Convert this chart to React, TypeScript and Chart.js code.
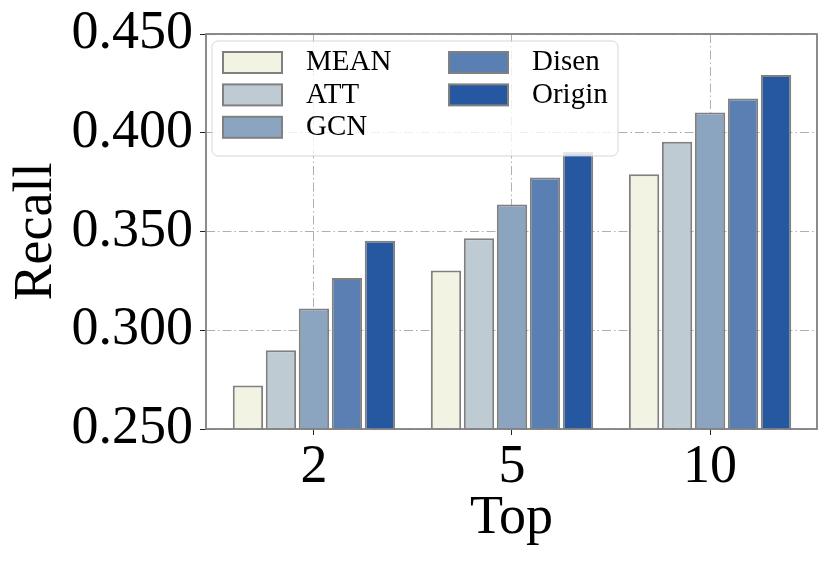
import React, { useEffect, useRef } from 'react';
import { Chart, registerables } from 'chart.js';

Chart.register(...registerables);

const categories = ['2', '5', '10'];
const seriesNames = ['MEAN', 'ATT', 'GCN', 'Disen', 'Origin'];
const meanValues = [0.272, 0.3303, 0.379];
const attValues = [0.2899, 0.3466, 0.3955];
const gcnValues = [0.311, 0.3637, 0.4103];
const disenValues = [0.3265, 0.3773, 0.4173];
const originValues = [0.3453, 0.3902, 0.4293];
const seriesValues = [meanValues, attValues, gcnValues, disenValues, originValues];
const seriesColors = ['#f2f3e3', '#bfcbd2', '#8ba4c0', '#5a7fb2', '#2658a1'];
const yTickValues = [0.25, 0.3, 0.35, 0.4, 0.45];
const xTitle = 'Top';
const yTitle = 'Recall';

const FONT = "'Liberation Serif', 'Times New Roman', serif";
const EDGE = '#808080';
const DASH = [9, 3, 1.5, 3];

const framePlugin = {
  id: 'frameAndLegend',
  afterDraw(chart: any) {
    const ctx = chart.ctx;
    const a = chart.chartArea;
    ctx.save();
    ctx.strokeStyle = EDGE;
    ctx.lineWidth = 1.8;
    ctx.strokeRect(a.left, a.top, a.right - a.left, a.bottom - a.top);

    // legend
    const bx = a.left + 6;
    const by = a.top + 7;
    const bw = 406;
    const bh = 115;
    ctx.beginPath();
    ctx.roundRect(bx, by, bw, bh, 6);
    ctx.fillStyle = 'rgba(255,255,255,0.8)';
    ctx.fill();
    ctx.strokeStyle = 'rgba(204,204,204,0.8)';
    ctx.lineWidth = 1;
    ctx.stroke();

    ctx.font = `29px ${FONT}`;
    ctx.textBaseline = 'middle';
    ctx.textAlign = 'left';
    seriesNames.forEach((name, i) => {
      const col = i < 3 ? 0 : 1;
      const row = i < 3 ? i : i - 3;
      const sx = bx + 11 + col * 226;
      const sy = by + 11 + row * 32.4;
      ctx.fillStyle = seriesColors[i];
      ctx.fillRect(sx, sy, 59, 21);
      ctx.strokeStyle = EDGE;
      ctx.lineWidth = 2;
      ctx.strokeRect(sx, sy, 59, 21);
      ctx.fillStyle = '#000';
      ctx.fillText(name, sx + 83, sy + 10.5);
    });
    ctx.restore();
  },
};

export default function App() {
  const ref = useRef<HTMLCanvasElement | null>(null);

  useEffect(() => {
    if (!ref.current) return;
    const chart = new Chart(ref.current, {
      type: 'bar',
      data: {
        datasets: seriesNames.map((name, i) => ({
          label: name,
          data: seriesValues[i].map((v, j) => ({ x: j, y: v })),
          backgroundColor: seriesColors[i],
          borderColor: EDGE,
          borderWidth: 2,
          borderSkipped: false,
          categoryPercentage: 0.833,
          barPercentage: 0.92,
        })),
      },
      options: {
        animation: false,
        responsive: false,
        maintainAspectRatio: false,
        devicePixelRatio: 1,
        layout: { padding: { left: 0, top: 31, right: 13, bottom: 0 } },
        plugins: {
          legend: { display: false },
          tooltip: { enabled: false },
        },
        scales: {
          x: {
            type: 'linear',
            min: -0.545,
            max: 2.54,
            offset: false,
            z: 1,
            afterFit: (s: any) => {
              s.height = 133;
            },
            afterBuildTicks: (s: any) => {
              s.ticks = categories.map((_, i) => ({ value: i }));
            },
            border: { display: false, dash: DASH },
            grid: {
              offset: false,
              color: '#b0b0b0',
              lineWidth: 1,
              drawTicks: true,
              tickLength: 6,
              tickColor: '#222',
              tickBorderDash: [],
            },
            ticks: {
              color: '#000',
              padding: 6,
              font: { family: FONT, size: 54, lineHeight: 1 },
              callback: (v: any) => categories[Math.round(Number(v))] ?? '',
              maxRotation: 0,
              autoSkip: false,
            },
            title: {
              display: true,
              text: xTitle,
              color: '#000',
              font: { family: FONT, size: 54, lineHeight: 1.2 },
              padding: { top: 0, bottom: 11 },
            },
          },
          y: {
            type: 'linear',
            min: 0.25,
            max: 0.45,
            z: 1,
            afterFit: (s: any) => {
              s.width = 206;
            },
            afterBuildTicks: (s: any) => {
              s.ticks = yTickValues.map((v) => ({ value: v }));
            },
            border: { display: false, dash: DASH },
            grid: {
              color: '#b0b0b0',
              lineWidth: 1,
              drawTicks: true,
              tickLength: 6,
              tickColor: '#222',
              tickBorderDash: [],
            },
            ticks: {
              color: '#000',
              padding: 7,
              font: { family: FONT, size: 54, lineHeight: 1 },
              callback: (v: any) => Number(v).toFixed(3),
            },
            title: {
              display: true,
              text: yTitle,
              color: '#000',
              font: { family: FONT, size: 54, lineHeight: 1.2 },
              padding: { top: 4, bottom: 0 },
            },
          },
        },
      },
      plugins: [framePlugin],
    });
    return () => chart.destroy();
  }, []);

  return (
    <div style={{ position: 'fixed', left: 0, top: 0, width: 830, height: 562, background: '#fff' }}>
      <canvas ref={ref} width={830} height={562} style={{ width: 830, height: 562, display: 'block' }} />
    </div>
  );
}
